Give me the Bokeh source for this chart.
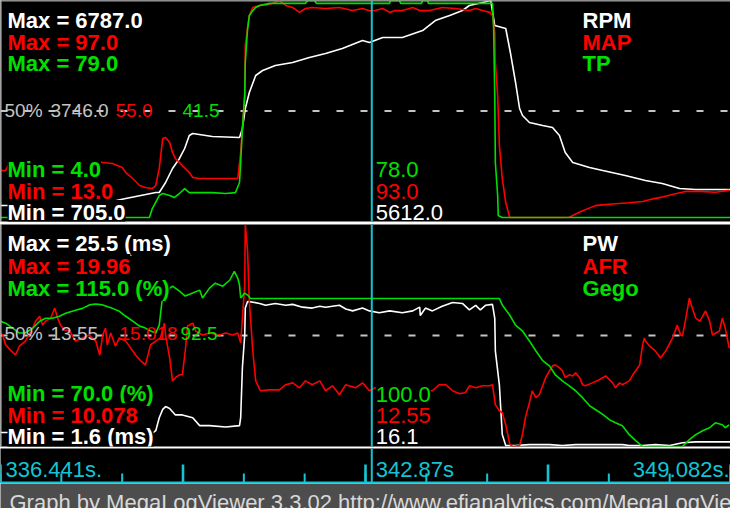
from bokeh.plotting import figure
from bokeh.models import Range1d, Span, Label, BoxAnnotation
from bokeh.layouts import column
from bokeh.embed import file_html
from bokeh.resources import INLINE

# ---------------- data ----------------
T_START = 336.441
T_END = 349.082
T_CURSOR = 342.87

RPM_MIN, RPM_MAX = 705.0, 6787.0
MAP_MIN, MAP_MAX = 13.0, 97.0
TP_MIN, TP_MAX = 4.0, 79.0
PW_MIN, PW_MAX = 1.6, 25.5
AFR_MIN, AFR_MAX = 10.078, 19.96
GEGO_MIN, GEGO_MAX = 70.0, 115.0

RPM_T = [336.44, 337.34, 338.21, 338.61, 339.13, 339.19, 339.30, 339.42, 339.54, 339.63,
         339.71, 339.77, 340.11, 340.58, 340.63, 340.68, 340.75, 340.86, 340.98, 341.20,
         341.50, 341.79, 342.07, 342.36, 342.71, 342.83, 343.06, 343.40, 343.75, 343.97,
         344.22, 344.44, 344.56, 344.79, 344.93, 345.00, 345.19, 345.27, 345.36, 345.43,
         345.48, 345.60, 345.83, 346.00, 346.12, 346.22, 346.35, 346.64, 346.87, 347.26,
         347.61, 347.90, 348.20, 348.48, 348.82, 349.08]
RPM_V = [1041, 1041, 1097, 1238, 1406, 1406, 1686, 2078, 2359, 2639,
         3003, 3059, 2975, 2948, 3199, 3760, 4208, 4685, 4825, 4965,
         5049, 5189, 5302, 5442, 5666, 5612, 5750, 5750, 5946, 6226,
         6367, 6507, 6647, 6731, 6787, 6086, 6002, 5330, 4489, 3760,
         3564, 3368, 3284, 3227, 3003, 2527, 2247, 2106, 2022, 1882,
         1742, 1658, 1518, 1490, 1490, 1490]

MAP_T = [336.44, 336.53, 336.61, 338.16, 338.21, 338.38, 338.55, 338.61, 338.73, 338.85,
         338.95, 339.07, 339.13, 339.19, 339.25, 339.30, 339.37, 339.42, 339.47, 339.54,
         339.59, 339.71, 339.77, 339.89, 340.55, 340.60, 340.63, 340.67, 340.68, 340.75,
         340.81, 340.93, 341.10, 341.27, 341.38, 341.50, 341.62, 341.72, 341.84, 342.07,
         342.31, 342.54, 342.71, 342.83, 342.93, 343.06, 343.18, 343.28, 343.40, 343.58,
         343.70, 343.87, 344.09, 344.32, 344.44, 344.56, 344.67, 344.79, 344.91, 344.96,
         345.00, 345.01, 345.05, 345.08, 345.13, 345.19, 345.26, 346.17, 346.29, 346.47,
         346.74, 346.87, 347.09, 347.33, 347.56, 347.73, 347.90, 348.13, 348.30, 348.55,
         348.82, 349.06]
MAP_V = [31.2, 31.2, 34.7, 34.7, 34.3, 33.9, 32.4, 30.4, 28.1, 25.4,
         24.6, 24.2, 25.4, 32.0, 43.6, 44.0, 42.0, 38.2, 35.8, 34.3,
         33.1, 30.4, 28.5, 28.1, 28.1, 38.2, 47.5, 60.2, 79.6, 91.2,
         94.3, 95.1, 95.5, 97.0, 95.1, 94.3, 92.4, 93.9, 94.3, 93.9,
         94.3, 93.1, 93.9, 93.0, 93.1, 93.9, 92.4, 93.1, 93.1, 94.3,
         93.1, 93.1, 94.3, 93.9, 93.5, 93.1, 93.9, 93.1, 92.4, 91.2,
         84.6, 73.0, 60.2, 40.9, 28.1, 18.8, 13.0, 13.0, 13.1, 15.1,
         17.6, 17.9, 18.3, 18.7, 19.2, 20.2, 20.9, 22.2, 23.1, 23.1,
         22.8, 23.5]

TP_T = [336.44, 339.02, 339.07, 339.19, 339.25, 339.37, 339.45, 339.54, 339.63, 339.71,
        340.11, 340.34, 340.51, 340.58, 340.60, 340.63, 340.67, 340.68, 340.72, 340.75,
        340.81, 340.86, 340.93, 341.10, 341.72, 341.76, 341.88, 341.91, 343.18, 343.19,
        343.35, 343.37, 343.73, 343.75, 343.84, 343.85, 344.96, 344.98, 345.00, 345.01,
        345.05, 345.06, 345.13, 349.08]
TP_V = [4.0, 4.0, 7.1, 11.6, 12.3, 11.6, 10.9, 12.3, 14.0, 12.6,
        12.6, 12.3, 12.6, 16.1, 23.0, 34.8, 46.2, 57.6, 69.3, 73.8,
        75.5, 76.6, 77.3, 78.0, 78.0, 79.0, 79.0, 78.0, 78.0, 79.0,
        79.0, 78.0, 78.0, 79.0, 79.0, 78.0, 78.0, 69.3, 46.2, 23.0,
        11.6, 4.7, 4.0, 4.0]

PW_T = [336.44, 336.56, 338.99, 339.02, 339.13, 339.19, 339.25, 339.30, 339.37, 339.47,
        339.59, 339.77, 339.89, 340.06, 340.34, 340.58, 340.60, 340.63, 340.67, 340.68,
        340.72, 340.75, 340.93, 341.03, 341.20, 341.38, 341.50, 341.67, 341.84, 341.97,
        342.07, 342.31, 342.42, 342.54, 342.71, 342.83, 343.00, 343.18, 343.40, 343.58,
        343.70, 343.71, 343.80, 343.92, 344.09, 344.27, 344.44, 344.56, 344.67, 344.75,
        344.84, 344.96, 345.00, 345.01, 345.08, 345.13, 345.19, 345.36, 345.60, 345.95,
        346.17, 346.40, 346.74, 347.21, 347.33, 347.56, 347.78, 348.03, 348.25, 348.48,
        349.08]
PW_V = [3.1, 3.1, 3.1, 2.8, 3.3, 4.7, 5.6, 5.9, 5.7, 5.0,
        5.0, 4.7, 3.85, 3.85, 3.7, 3.85, 4.7, 10.1, 13.6, 16.5,
        17.2, 17.2, 17.0, 16.8, 17.0, 16.8, 16.9, 16.6, 16.5, 16.7,
        16.6, 16.8, 16.4, 16.2, 16.5, 16.2, 16.0, 16.2, 16.0, 16.2,
        16.6, 15.7, 16.5, 16.2, 16.7, 17.1, 17.0, 16.3, 16.8, 16.3,
        16.8, 16.9, 15.4, 11.9, 8.2, 2.9, 1.7, 1.7, 1.8, 1.8,
        1.7, 1.8, 1.8, 1.8, 1.7, 1.7, 1.8, 1.7, 2.0, 2.1,
        2.1]

AFR_T = [336.44, 336.48, 336.53, 336.61, 336.70, 336.77, 336.87, 337.00, 337.05, 337.12,
         337.17, 337.22, 337.31, 337.38, 337.43, 337.48, 337.55, 337.64, 337.74, 337.86,
         337.98, 338.09, 338.16, 338.21, 338.26, 338.29, 338.35, 338.43, 338.50, 338.61,
         338.78, 338.87, 338.95, 339.04, 339.13, 339.21, 339.28, 339.30, 339.37, 339.42,
         339.47, 339.54, 339.59, 339.64, 339.68, 339.77, 339.82, 339.94, 340.06, 340.23,
         340.34, 340.46, 340.55, 340.60, 340.63, 340.67, 340.68, 340.72, 340.75, 340.77,
         340.81, 340.86, 340.94, 341.10, 341.27, 341.38, 341.50, 341.62, 341.72, 341.84,
         341.97, 342.07, 342.19, 342.31, 342.42, 342.59, 342.71, 342.83, 342.93, 343.92,
         344.04, 344.15, 344.27, 344.39, 344.49, 344.56, 344.67, 344.79, 344.91, 344.96,
         345.01, 345.08, 345.13, 345.19, 345.26, 345.31, 345.43, 345.48, 345.53, 345.60,
         345.65, 345.71, 345.77, 345.83, 345.88, 345.95, 346.00, 346.05, 346.12, 346.17,
         346.22, 346.29, 346.35, 346.40, 346.47, 346.52, 346.57, 346.69, 346.81, 346.92,
         347.04, 347.09, 347.16, 347.21, 347.33, 347.39, 347.44, 347.51, 347.56, 347.59,
         347.61, 347.68, 347.78, 347.87, 347.96, 348.08, 348.16, 348.22, 348.25, 348.30,
         348.37, 348.42, 348.48, 348.55, 348.60, 348.65, 348.72, 348.77, 348.89, 348.94,
         348.99, 349.06]
AFR_V = [15.13, 15.04, 14.60, 14.38, 14.15, 14.55, 14.77, 15.35, 15.66, 15.88,
         15.48, 15.66, 15.79, 16.24, 15.79, 15.48, 15.26, 15.22, 14.77, 14.91,
         15.04, 14.77, 14.15, 15.04, 15.35, 14.60, 15.13, 14.55, 14.91, 14.77,
         14.15, 13.89, 13.71, 14.60, 14.77, 14.91, 15.57, 15.04, 14.02, 13.00,
         13.14, 13.27, 13.27, 14.33, 15.44, 15.57, 15.22, 15.04, 15.13, 15.04,
         15.13, 15.04, 15.13, 14.69, 15.79, 17.26, 19.96, 18.76, 16.55, 15.79,
         14.33, 13.00, 12.56, 12.60, 12.60, 12.83, 12.91, 12.69, 13.00, 12.83,
         13.00, 12.56, 12.78, 12.38, 12.83, 12.69, 12.91, 12.56, 12.69, 12.56,
         12.83, 12.83, 12.56, 12.43, 12.47, 12.78, 12.69, 12.78, 12.78, 12.83,
         11.94, 11.67, 11.58, 11.05, 10.17, 10.078, 10.12, 10.61, 11.36, 12.03,
         12.56, 12.25, 12.38, 12.78, 13.14, 13.45, 13.67, 13.71, 13.58, 13.45,
         13.14, 13.27, 13.22, 13.36, 13.14, 12.83, 12.78, 12.91, 13.05, 13.22,
         12.91, 12.69, 12.91, 12.83, 13.00, 13.27, 13.45, 13.71, 14.60, 14.91,
         14.77, 14.55, 14.33, 14.02, 14.33, 14.91, 15.48, 15.04, 15.00, 15.66,
         16.68, 16.24, 15.79, 15.66, 15.88, 16.11, 15.66, 15.04, 15.22, 15.79,
         15.35, 14.46]

GEGO_T = [336.44, 336.53, 336.65, 336.77, 336.87, 337.00, 337.12, 337.22, 337.34, 337.46,
          337.57, 337.74, 337.86, 337.98, 338.09, 338.21, 338.38, 338.50, 338.61, 338.73,
          338.85, 338.95, 339.04, 339.13, 339.19, 339.25, 339.30, 339.42, 339.54, 339.64,
          339.77, 339.89, 339.94, 340.06, 340.16, 340.29, 340.41, 340.49, 340.55, 340.58,
          340.60, 340.67, 340.72, 340.77, 345.08, 345.13, 345.26, 345.36, 345.48, 345.60,
          345.71, 345.83, 345.95, 346.05, 346.17, 346.29, 346.40, 346.52, 346.64, 346.74,
          346.87, 346.99, 347.09, 347.21, 347.33, 347.44, 347.56, 348.13, 348.25, 348.37,
          348.48, 348.60, 348.72, 348.82, 348.94, 348.99, 349.06]
GEGO_V = [95.4, 95.0, 94.0, 93.0, 93.0, 94.0, 95.4, 96.0, 96.0, 96.4,
          97.0, 97.6, 98.0, 98.7, 98.9, 98.7, 98.0, 97.4, 96.4, 95.4,
          94.4, 94.0, 93.4, 93.0, 94.6, 100.7, 101.5, 102.5, 101.5, 100.5,
          101.1, 101.7, 100.1, 102.1, 103.1, 102.5, 103.7, 105.5, 104.1, 102.7,
          100.1, 101.1, 100.7, 100.0, 100.0, 98.7, 96.6, 94.6, 93.4, 91.4,
          89.4, 87.4, 86.3, 84.5, 83.3, 82.3, 81.3, 79.9, 78.3, 77.5,
          76.5, 75.4, 74.8, 74.2, 72.4, 71.2, 70.0, 70.0, 70.0, 71.4,
          72.4, 73.2, 73.8, 74.8, 74.4, 73.8, 74.4]

TOP_NAMES = ["RPM", "MAP", "TP"]
TOP_MAX_TEXT = ["Max = 6787.0", "Max = 97.0", "Max = 79.0"]
TOP_MIN_TEXT = ["Min = 4.0", "Min = 13.0", "Min = 705.0"]
TOP_MID_TEXT = ["50%", "3746.0", "55.0", "41.5"]
TOP_CURSOR_TEXT = ["78.0", "93.0", "5612.0"]

BOT_NAMES = ["PW", "AFR", "Gego"]
BOT_MAX_TEXT = ["Max = 25.5 (ms)", "Max = 19.96", "Max = 115.0 (%)"]
BOT_MIN_TEXT = ["Min = 70.0 (%)", "Min = 10.078", "Min = 1.6 (ms)"]
BOT_MID_TEXT = ["50%", "13.55", "15.018", "92.5"]
BOT_CURSOR_TEXT = ["100.0", "12.55", "16.1"]

TIME_TEXT = ["336.441s.", "342.87s", "349.082s."]
FOOTER_TEXT = "Graph by MegaLogViewer 3.3.02 http://www.efianalytics.com/MegaLogViewer/"

# ---------------- style ----------------
FONT = "Liberation Sans"
WHITE = "#ffffff"
RED = "#ff0000"
GREEN = "#00e000"
GRAY = "#c4c4c4"
CYAN = "#12c4d4"
W = 730
TOP_H, TOP_B = 224, 3
BOT_H, BOT_B = 224, 2
AX_H = 35
FOOT_H = 25
PAD = 4.0 / 217.0
TALL_TICK, SHORT_TICK = 19, 10


def base_fig(h, border_bottom, y_range, bg="black", border="black"):
    p = figure(width=W, height=h, x_range=Range1d(T_START, T_END), y_range=y_range,
               output_backend="svg", toolbar_location=None,
               x_axis_location=None, y_axis_location=None,
               background_fill_color=bg, border_fill_color=border,
               min_border_left=0, min_border_right=0, min_border_top=0,
               min_border_bottom=border_bottom, outline_line_color=None)
    p.grid.visible = False
    return p


def put(p, text, x, base, color, size=22, bold=False, bg=True, align="left",
        x_units="screen", x_offset=0):
    frame_h = p.height - p.min_border_bottom
    kw = dict(x=x, y=frame_h - base, x_units=x_units, y_units="screen",
              x_offset=x_offset, text=text, text_color=color,
              text_font=FONT, text_font_size=f"{size}px",
              text_font_style="bold" if bold else "normal",
              text_baseline="alphabetic", text_align=align)
    if bg:
        kw["background_fill_color"] = "black"
    p.add_layout(Label(**kw))


def rng(lo, hi, pad=0.0):
    return Range1d(lo - (hi - lo) * pad, hi)


# ---------------- top panel ----------------
top = base_fig(TOP_H, TOP_B, rng(RPM_MIN, RPM_MAX, PAD), border="white")
top.extra_y_ranges = {"map": rng(MAP_MIN, MAP_MAX, PAD), "tp": rng(TP_MIN, TP_MAX, PAD)}
mid_top = (top.y_range.start + top.y_range.end) / 2
top.add_layout(Span(location=mid_top, dimension="width", line_color=GRAY,
                    line_width=2, line_dash="7 17", level="underlay"))
top.line(RPM_T, RPM_V, line_color=WHITE, line_width=1.6)
top.line(MAP_T, MAP_V, line_color=RED, line_width=1.6, y_range_name="map")
top.line(TP_T, TP_V, line_color=GREEN, line_width=1.6, y_range_name="tp")

# ---------------- bottom panel ----------------
bot = base_fig(BOT_H, BOT_B, rng(PW_MIN, PW_MAX), border="white")
bot.extra_y_ranges = {"afr": rng(AFR_MIN, AFR_MAX), "gego": rng(GEGO_MIN, GEGO_MAX)}
mid_bot = (bot.y_range.start + bot.y_range.end) / 2
bot.add_layout(Span(location=mid_bot, dimension="width", line_color=GRAY,
                    line_width=2, line_dash="7 17", level="underlay"))
bot.line(PW_T, PW_V, line_color=WHITE, line_width=1.6)
bot.line(AFR_T, AFR_V, line_color=RED, line_width=1.6, y_range_name="afr")
bot.line(GEGO_T, GEGO_V, line_color=GREEN, line_width=1.6, y_range_name="gego")

for p in (top, bot):
    p.add_layout(Span(location=T_START, dimension="height", line_color="#c8c8c8", line_width=2))
    p.add_layout(Span(location=T_CURSOR, dimension="height", line_color=CYAN, line_width=2))
top.add_layout(Span(location=RPM_MAX, dimension="width", line_color="#a0a0a0", line_width=2))

# texts, top panel
colors3 = [WHITE, RED, GREEN]
for txt, c, b in zip(TOP_MAX_TEXT, colors3, [20, 42, 63]):
    put(top, txt, 7, b, c, bold=True)
for txt, c, b in zip(TOP_NAMES, colors3, [20, 42, 63]):
    put(top, txt, 582, b, c, bold=True)
for txt, c, b in zip(TOP_MIN_TEXT, [GREEN, RED, WHITE], [169, 191, 212]):
    put(top, txt, 7, b, c, bold=True)
for txt, c, b in zip(TOP_CURSOR_TEXT, [GREEN, RED, WHITE], [169, 191, 212]):
    put(top, txt, T_CURSOR, b, c, x_units="data", x_offset=4)
for txt, c, x in zip(TOP_MID_TEXT, [GRAY, GRAY, RED, GREEN], [4, 50, 115, 182]):
    put(top, txt, x, 110, c, size=19, bg=False)

# texts, bottom panel
for txt, c, b in zip(BOT_MAX_TEXT, colors3, [19, 42, 64]):
    put(bot, txt, 7, b, c, bold=True)
for txt, c, b in zip(BOT_NAMES, colors3, [19, 42, 64]):
    put(bot, txt, 582, b, c, bold=True)
for txt, c, b in zip(BOT_MIN_TEXT, [GREEN, RED, WHITE], [169, 191, 212]):
    put(bot, txt, 7, b, c, bold=True)
for txt, c, b in zip(BOT_CURSOR_TEXT, [GREEN, RED, WHITE], [170, 191, 212]):
    put(bot, txt, T_CURSOR, b, c, x_units="data", x_offset=4)
for txt, c, x in zip(BOT_MID_TEXT, [GRAY, GRAY, RED, GREEN], [4, 50, 119, 180]):
    put(bot, txt, x, 109, c, size=19, bg=False)

# ---------------- time axis (ticks in screen units from the strip's bottom) ----------------
span_t = T_END - T_START
MAJOR = [T_START + span_t * k / 4 for k in range(5)]
MINOR = [T_START + span_t * k / 12 for k in range(13)]
HALF_PX = span_t / W
tax = base_fig(AX_H, 0, Range1d(0, AX_H))
for t in MINOR:
    tax.add_layout(BoxAnnotation(left=t - HALF_PX, right=t + HALF_PX,
                                 bottom=0, top=SHORT_TICK,
                                 bottom_units="screen", top_units="screen",
                                 fill_color=CYAN, fill_alpha=1.0, line_alpha=0.0))
for t in MAJOR:
    tax.add_layout(BoxAnnotation(left=t - 1.3 * HALF_PX, right=t + 1.3 * HALF_PX,
                                 bottom=0, top=TALL_TICK,
                                 bottom_units="screen", top_units="screen",
                                 fill_color=CYAN, fill_alpha=1.0, line_alpha=0.0))
tax.add_layout(BoxAnnotation(bottom=0, top=2, bottom_units="screen", top_units="screen",
                             fill_color=CYAN, fill_alpha=1.0, line_alpha=0.0))
tax.add_layout(Span(location=T_CURSOR, dimension="height", line_color=CYAN, line_width=2))
put(tax, TIME_TEXT[0], 5, 21, CYAN, bg=False)
put(tax, TIME_TEXT[1], T_CURSOR, 21, CYAN, bg=False, x_units="data", x_offset=4)
put(tax, TIME_TEXT[2], 729, 21, CYAN, bg=False, align="right")

# ---------------- footer ----------------
foot = base_fig(FOOT_H, 0, Range1d(0, 1), bg="#4d4d4d", border="#4d4d4d")
put(foot, FOOTER_TEXT, 9, 19, "#d8d8d8", bg=False)

layout = column(top, bot, tax, foot, spacing=0)
open("out.html", "w").write(file_html(layout, INLINE))
